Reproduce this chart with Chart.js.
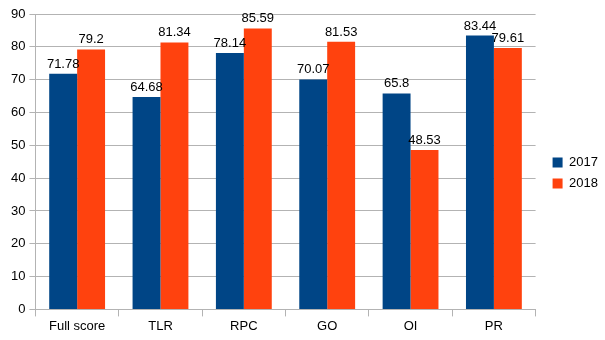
<!DOCTYPE html>
<html>
<head>
<meta charset="utf-8">
<script src="https://cdn.jsdelivr.net/npm/chart.js@4/dist/chart.umd.min.js"></script>
<style>
html,body{margin:0;padding:0;background:#fff;}
#wrap{width:605px;height:340px;}
</style>
</head>
<body>
<div id="wrap"><canvas id="c" width="605" height="340"></canvas></div>
<script>
const categories = ["Full score", "TLR", "RPC", "GO", "OI", "PR"];
const values2017 = [71.78, 64.68, 78.14, 70.07, 65.8, 83.44];
const values2018 = [79.2, 81.34, 85.59, 81.53, 48.53, 79.61];
const labels2017 = ["71.78", "64.68", "78.14", "70.07", "65.8", "83.44"];
const labels2018 = ["79.2", "81.34", "85.59", "81.53", "48.53", "79.61"];
const seriesNames = ["2017", "2018"];

const FONT = "'Liberation Sans', Arial, sans-serif";
const GRID = "#b3b3b3";

const valueLabels = {
  id: 'valueLabels',
  afterDatasetsDraw(chart) {
    const ctx = chart.ctx;
    const texts = [labels2017, labels2018];
    ctx.save();
    ctx.font = "13px " + FONT;
    ctx.fillStyle = "#000";
    ctx.textAlign = "center";
    ctx.textBaseline = "alphabetic";
    chart.data.datasets.forEach((ds, di) => {
      const meta = chart.getDatasetMeta(di);
      meta.data.forEach((bar, i) => {
        ctx.fillText(texts[di][i], bar.x, bar.y - 6);
      });
    });
    ctx.restore();
  }
};

const legendShift = {
  id: 'legendShift',
  afterInit(chart) {
    const lg = chart.legend;
    if (!lg || lg._shifted) return;
    const origDraw = lg.draw;
    lg.draw = function () {
      this.left += 9; this.right += 9;
      this.top -= 2; this.bottom -= 2;
      origDraw.apply(this, arguments);
      this.left -= 9; this.right -= 9;
      this.top += 2; this.bottom += 2;
    };
    lg._shifted = true;
  }
};

new Chart(document.getElementById('c'), {
  type: 'bar',
  data: {
    labels: categories,
    datasets: [
      { label: seriesNames[0], data: values2017, backgroundColor: '#004586', barPercentage: 1.0, categoryPercentage: 0.67 },
      { label: seriesNames[1], data: values2018, backgroundColor: '#ff420e', barPercentage: 1.0, categoryPercentage: 0.67 }
    ]
  },
  options: {
    responsive: false,
    animation: false,
    devicePixelRatio: 1,
    layout: { padding: { top: 14, right: 6, left: 7, bottom: 4 } },
    plugins: {
      legend: {
        position: 'right',
        align: 'center',
        labels: {
          boxWidth: 10, boxHeight: 10, padding: 8,
          color: '#000',
          font: { size: 13, family: FONT }
        }
      },
      tooltip: { enabled: false }
    },
    scales: {
      x: {
        grid: {
          offset: true,
          color: (c) => (c.index === 6 ? GRID : 'transparent'),
          tickColor: GRID,
          tickLength: 7,
          lineWidth: 1
        },
        border: { display: true, color: GRID },
        ticks: { color: '#000', font: { size: 13, family: FONT }, padding: 2 }
      },
      y: {
        min: 0, max: 90,
        ticks: { stepSize: 10, color: '#000', font: { size: 13, family: FONT }, padding: 4 },
        grid: { color: GRID, tickColor: GRID, tickLength: 6 },
        border: { display: true, color: GRID }
      }
    }
  },
  plugins: [valueLabels, legendShift]
});
</script>
</body>
</html>
